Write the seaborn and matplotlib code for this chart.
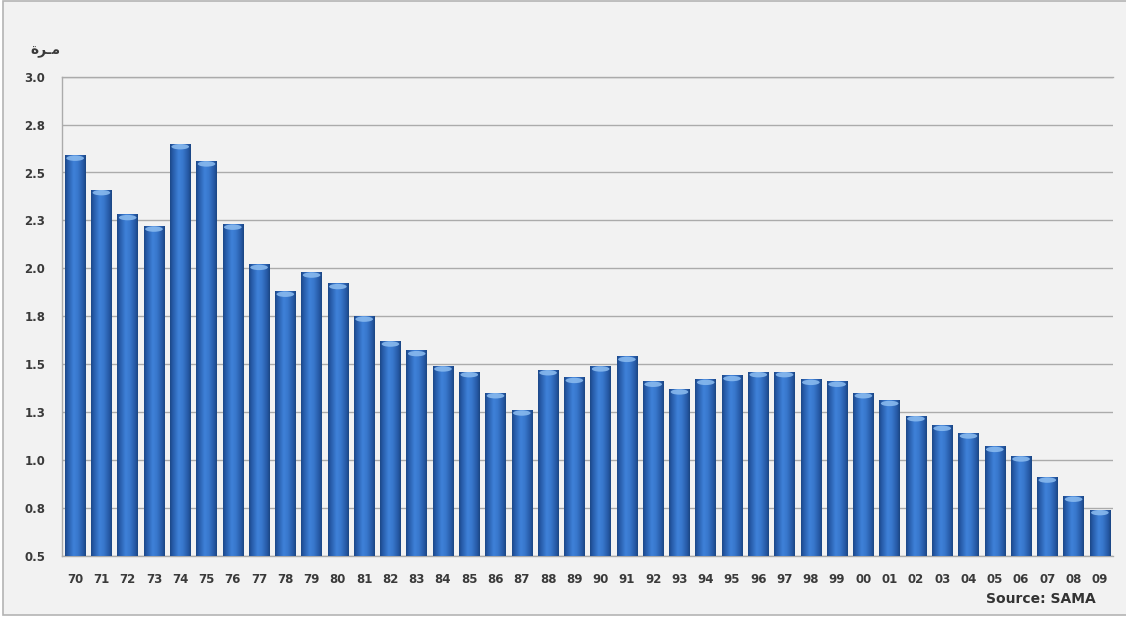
import numpy as np
import pandas as pd
import matplotlib
matplotlib.use("Agg")
import matplotlib.pyplot as plt
from matplotlib.colors import LinearSegmentedColormap
from matplotlib.patches import Rectangle, Ellipse
import seaborn as sns

# Ratio by year (1970-2009)
years = ["70", "71", "72", "73", "74", "75", "76", "77", "78", "79",
         "80", "81", "82", "83", "84", "85", "86", "87", "88", "89",
         "90", "91", "92", "93", "94", "95", "96", "97", "98", "99",
         "00", "01", "02", "03", "04", "05", "06", "07", "08", "09"]
ratios = [2.59, 2.41, 2.28, 2.22, 2.65, 2.56, 2.23, 2.02, 1.88, 1.98,
          1.92, 1.75, 1.62, 1.57, 1.49, 1.46, 1.35, 1.26, 1.47, 1.43,
          1.49, 1.54, 1.41, 1.37, 1.42, 1.44, 1.46, 1.46, 1.42, 1.41,
          1.35, 1.31, 1.23, 1.18, 1.14, 1.07, 1.02, 0.91, 0.81, 0.74]

y_ticks = [0.5, 0.75, 1.0, 1.25, 1.5, 1.75, 2.0, 2.25, 2.5, 2.75, 3.0]
y_tick_labels = ["0.5", "0.8", "1.0", "1.3", "1.5", "1.8", "2.0", "2.3", "2.5", "2.8", "3.0"]

unit_label = "\uFE93\uFEAE\u0640\uFEE3"   # "مـرة" in shaped (visual-order) form
source_label = "Source: SAMA"

df = pd.DataFrame({"year": years, "ratio": ratios})

sns.set_style("white")
plt.rcParams["font.family"] = ["DejaVu Sans"]

W, H = 1126, 618
fig = plt.figure(figsize=(W / 100, H / 100), dpi=100, facecolor="white")

# light grey panel with a thin frame (left, top and bottom edges visible)
fig.patches.append(Rectangle((3 / W, 1 - 615 / H), 1.1, (615 - 1) / H,
                             transform=fig.transFigure, facecolor="#f2f2f2",
                             edgecolor="#b4b4b4", linewidth=1.2, zorder=-10))

ax = fig.add_axes([62 / W, 1 - 555.7 / H, (1113 - 62) / W, (555.7 - 76.7) / H])
ax.set_zorder(1)
ax.set_facecolor("none")

sns.barplot(data=df, x="year", y="ratio", color="#3170c4", saturation=1,
            width=0.78, edgecolor="none", ax=ax, zorder=2)

xlim = (-0.5, len(years) - 0.5)
ylim = (0.5, 3.0)
ax.set_xlim(*xlim)
ax.set_ylim(*ylim)

# cylinder-like shading on each bar
cyl = LinearSegmentedColormap.from_list(
    "cyl", [(0.0, "#1b4685"), (0.12, "#2659a6"), (0.42, "#3f82d9"),
            (0.62, "#3877cc"), (0.88, "#2557a2"), (1.0, "#1a4480")])
grad = np.linspace(0, 1, 256).reshape(1, -1)
for bar in list(ax.patches):
    x0, w, h = bar.get_x(), bar.get_width(), bar.get_height()
    ax.imshow(grad, extent=[x0, x0 + w, ylim[0], h], aspect="auto", cmap=cyl,
              interpolation="bicubic", zorder=3)
    cap_h = 0.028
    ax.add_patch(Ellipse((x0 + w / 2, h - cap_h * 0.55), w * 0.86, cap_h,
                         facecolor="#8dbdf0", edgecolor="none", alpha=0.85, zorder=4))

ax.set_xlim(*xlim)
ax.set_ylim(*ylim)
ax.set_xlabel("")
ax.set_ylabel("")

ax.set_yticks(y_ticks)
ax.set_yticklabels(y_tick_labels)
ax.yaxis.grid(True, color="#ababab", linewidth=1.0, zorder=1)
ax.xaxis.grid(False)
ax.set_axisbelow(True)

for side in ["left", "top", "bottom"]:
    ax.spines[side].set_visible(True)
    ax.spines[side].set_color("#ababab")
    ax.spines[side].set_linewidth(1.0)
ax.spines["right"].set_visible(False)

ax.set_xticks(np.arange(len(years)))
ax.set_xticklabels(years)
ax.set_xticks(np.arange(-0.5, len(years)), minor=True)
ax.tick_params(axis="x", which="major", length=0, pad=12.5,
               labelsize=8.5, labelcolor="#3a3a3a")
ax.tick_params(axis="x", which="minor", length=3.5, width=0.9, color="#ababab",
               direction="out")
ax.tick_params(axis="y", which="major", length=3, width=0.9, color="#ababab",
               pad=9, labelsize=8.5, labelcolor="#3a3a3a", direction="out")
for lab in ax.get_xticklabels() + ax.get_yticklabels():
    lab.set_fontweight("bold")

fig.text(45 / W, 1 - 51 / H, unit_label, ha="center", va="center",
         fontsize=10, fontweight="bold", color="#3a3a3a")
fig.text(1096 / W, 1 - 599 / H, source_label, ha="right", va="center",
         fontsize=10, fontweight="bold", color="#333333")

fig.savefig("out.png", dpi=100, facecolor=fig.get_facecolor())
